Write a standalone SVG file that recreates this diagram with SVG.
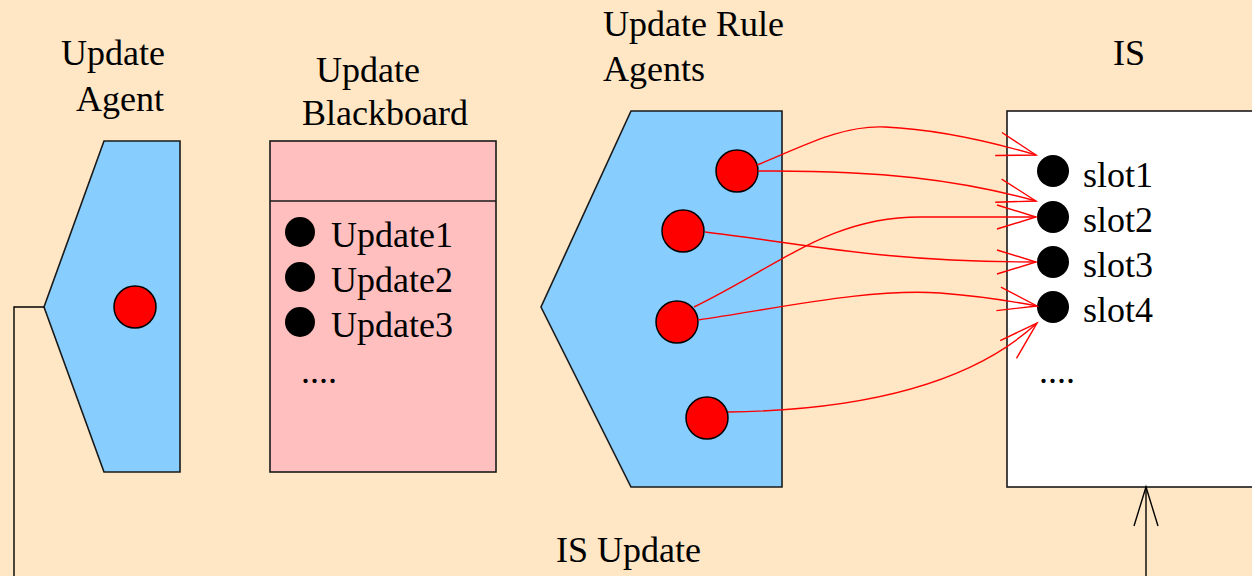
<svg xmlns="http://www.w3.org/2000/svg" width="1252" height="576" viewBox="0 0 1252 576">
  <style>
    .lbl { font-family: "Liberation Serif", "Times New Roman", serif; font-size: 36px; fill: #000; }
    .agent { fill: #87CEFF; stroke: #1a1a1a; stroke-width: 1.6; }
    .board { fill: #FFBFBF; stroke: #1a1a1a; stroke-width: 1.6; }
    .store { fill: #FFFFFF; stroke: #1a1a1a; stroke-width: 1.6; }
    .dot { fill: #FF0000; stroke: #000; stroke-width: 1.5; }
    .bullet { fill: #000; }
    .flow { fill: none; stroke: #FF0000; stroke-width: 1.4; }
    .wire { fill: none; stroke: #000; stroke-width: 1.4; }
  </style>
  <defs>
    <marker id="vRed" markerUnits="userSpaceOnUse" markerWidth="44" markerHeight="30" refX="40" refY="13" orient="auto" overflow="visible">
      <path d="M1,1 L40,13 L1,25" fill="none" stroke="#FF0000" stroke-width="1.4"/>
    </marker>
    <marker id="vBlack" markerUnits="userSpaceOnUse" markerWidth="44" markerHeight="30" refX="40" refY="13" orient="auto" overflow="visible">
      <path d="M1,1 L40,13 L1,25" fill="none" stroke="#000" stroke-width="1.4"/>
    </marker>
  </defs>

  <rect x="0" y="0" width="1252" height="576" fill="#FFE6C4"/>

  <!-- Update Agent -->
  <g id="update-agent">
    <text class="lbl" x="61" y="65">Update</text>
    <text class="lbl" x="76" y="111">Agent</text>
    <polygon class="agent" points="104,141 180,141 180,472 104,472 44,307"/>
    <circle class="dot" cx="135" cy="307" r="21"/>
  </g>

  <!-- Update Blackboard -->
  <g id="update-blackboard">
    <text class="lbl" x="316" y="82">Update</text>
    <text class="lbl" x="302" y="125">Blackboard</text>
    <rect class="board" x="270" y="141" width="226" height="331"/>
    <line x1="270" y1="201" x2="496" y2="201" stroke="#1a1a1a" stroke-width="1.4"/>
    <circle class="bullet" cx="300" cy="232" r="15"/>
    <circle class="bullet" cx="300" cy="277" r="15"/>
    <circle class="bullet" cx="300" cy="322" r="15"/>
    <text class="lbl" x="331" y="247">Update1</text>
    <text class="lbl" x="331" y="292">Update2</text>
    <text class="lbl" x="331" y="337">Update3</text>
    <text class="lbl" x="301" y="383">....</text>
  </g>

  <!-- Update Rule Agents -->
  <g id="update-rule-agents">
    <text class="lbl" x="603" y="36">Update Rule</text>
    <text class="lbl" x="603" y="81">Agents</text>
    <polygon class="agent" points="631,111 782,111 782,487 631,487 541,307"/>
    <circle class="dot" cx="737" cy="171" r="21"/>
    <circle class="dot" cx="683" cy="231" r="21"/>
    <circle class="dot" cx="677" cy="322" r="21"/>
    <circle class="dot" cx="707" cy="418" r="21"/>
  </g>

  <!-- IS -->
  <g id="is">
    <text class="lbl" x="1113" y="65">IS</text>
    <rect class="store" x="1007" y="111" width="260" height="376"/>
    <circle class="bullet" cx="1053" cy="171" r="16"/>
    <circle class="bullet" cx="1053" cy="217" r="16"/>
    <circle class="bullet" cx="1053" cy="262" r="16"/>
    <circle class="bullet" cx="1053" cy="307" r="16"/>
    <text class="lbl" x="1083" y="187">slot1</text>
    <text class="lbl" x="1083" y="232">slot2</text>
    <text class="lbl" x="1083" y="277">slot3</text>
    <text class="lbl" x="1083" y="322">slot4</text>
    <text class="lbl" x="1039" y="383">....</text>
  </g>

  <!-- connectors -->
  <g id="connectors">
    <path class="flow" marker-end="url(#vRed)" d="M757,165 C800,148 840,125 885,127 C930,129 985,140 1036,155"/>
    <path class="flow" marker-end="url(#vRed)" d="M758,171 C880,170 960,180 1036,201"/>
    <path class="flow" marker-end="url(#vRed)" d="M705,232 C800,243 880,262 1036,262"/>
    <path class="flow" marker-end="url(#vRed)" d="M694,307 C780,265 830,217 920,217 L1036,217"/>
    <path class="flow" marker-end="url(#vRed)" d="M698,320 C780,308 870,288 940,293 C980,296 1005,300 1037,306"/>
    <path class="flow" marker-end="url(#vRed)" d="M728,412 C860,410 970,385 1037,323"/>
    <polyline class="wire" points="44,307 14,307 14,576"/>
    <path class="wire" marker-end="url(#vBlack)" d="M1146,576 L1146,487"/>
    <text class="lbl" x="556" y="562">IS Update</text>
  </g>
</svg>
